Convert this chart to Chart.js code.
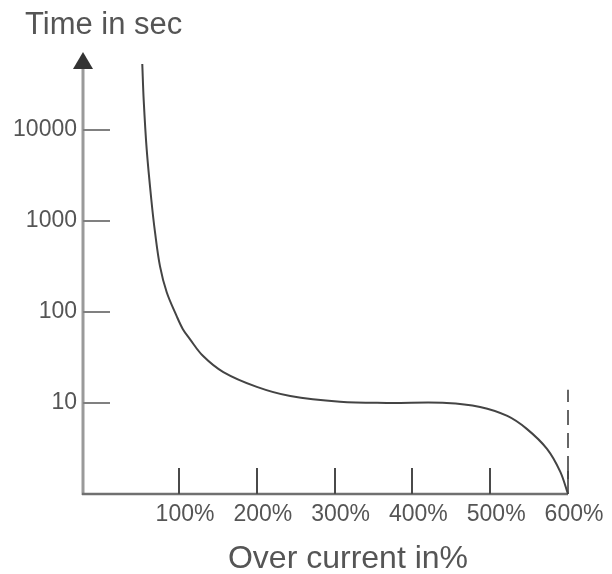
<!DOCTYPE html>
<html>
<head>
<meta charset="utf-8">
<script src="https://cdn.jsdelivr.net/npm/chart.js@4.4.1/dist/chart.umd.min.js"></script>
<style>
html,body{margin:0;padding:0;background:#fff;}
#wrap{width:612px;height:574px;}
</style>
</head>
<body>
<div id="wrap"><canvas id="c" width="612" height="574"></canvas></div>
<script>
// Data
const overCurrent = [52.8, 54.6, 58.5, 64.4, 69.2, 75.6, 84.2, 97, 105, 114, 131, 157, 200, 243, 307, 367, 444, 487, 522, 547, 573, 590, 600];
const timeSec     = [52800, 21300, 6040, 1714, 745, 316, 164, 89.8, 64.6, 50.2, 32.7, 21.8, 15.0, 11.9, 10.3, 10.0, 10.0, 9.04, 7.2, 5.19, 3.13, 1.76, 1.0];
const limitX = [600, 600];
const limitY = [1, 14];
const xTickValues = [100, 200, 300, 400, 500, 600];
const yTickValues = [10, 100, 1000, 10000];
const xRange = [-23.4, 600];
const yRange = [1, 71400];
const yTitle = 'Time in sec';
const xTitle = 'Over current in%';

const curvePts = overCurrent.map((x, i) => ({x, y: timeSec[i]}));
const limitPts = limitX.map((x, i) => ({x, y: limitY[i]}));

const decor = {
  id: 'decor',
  beforeDatasetsDraw(chart) {
    const {ctx, chartArea: a, scales: {x, y}} = chart;
    ctx.save();
    // y axis line
    ctx.strokeStyle = '#9a9a9a';
    ctx.lineWidth = 3;
    ctx.beginPath(); ctx.moveTo(a.left, a.top + 14); ctx.lineTo(a.left, a.bottom + 1); ctx.stroke();
    // x axis line
    ctx.strokeStyle = '#707070';
    ctx.lineWidth = 2.5;
    ctx.beginPath(); ctx.moveTo(a.left - 1, a.bottom); ctx.lineTo(a.right, a.bottom); ctx.stroke();
    // y ticks (inside)
    ctx.strokeStyle = '#808080';
    ctx.lineWidth = 2;
    yTickValues.forEach(v => {
      const py = Math.round(y.getPixelForValue(v));
      ctx.beginPath(); ctx.moveTo(a.left, py); ctx.lineTo(a.left + 27, py); ctx.stroke();
    });
    // x ticks (inside)
    ctx.strokeStyle = '#4a4a4a';
    ctx.lineWidth = 2;
    xTickValues.forEach(v => {
      const px = Math.round(x.getPixelForValue(v));
      ctx.beginPath(); ctx.moveTo(px, a.bottom); ctx.lineTo(px, a.bottom - 26); ctx.stroke();
    });
    // arrow head
    ctx.fillStyle = '#333';
    ctx.beginPath();
    ctx.moveTo(a.left, a.top);
    ctx.lineTo(a.left - 10, a.top + 17);
    ctx.lineTo(a.left + 10, a.top + 17);
    ctx.closePath(); ctx.fill();
    // titles
    ctx.fillStyle = '#555';
    ctx.textBaseline = 'alphabetic';
    ctx.font = '31px "Liberation Sans", Arial, sans-serif';
    ctx.textAlign = 'left';
    ctx.fillText(yTitle, 25, 34);
    ctx.font = '32px "Liberation Sans", Arial, sans-serif';
    ctx.textAlign = 'center';
    ctx.fillText(xTitle, 348, 568);
    ctx.restore();
  }
};

new Chart(document.getElementById('c'), {
  type: 'scatter',
  data: {
    datasets: [
      {
        data: curvePts,
        showLine: true,
        borderColor: '#444',
        borderWidth: 2,
        pointRadius: 0,
        tension: 0.35,
        fill: false,
        clip: false
      },
      {
        data: limitPts,
        showLine: true,
        borderColor: '#666',
        borderWidth: 2,
        borderDash: [15, 8],
        pointRadius: 0,
        fill: false,
        clip: false
      }
    ]
  },
  options: {
    responsive: false,
    animation: false,
    devicePixelRatio: 1,
    layout: {padding: {top: 52, right: 44, left: 0, bottom: 0}},
    plugins: {legend: {display: false}, tooltip: {enabled: false}, title: {display: false}},
    scales: {
      x: {
        type: 'linear',
        min: xRange[0], max: xRange[1],
        grid: {display: false, drawTicks: false},
        border: {display: false},
        afterBuildTicks: s => { s.ticks = xTickValues.map(v => ({value: v})); },
        afterFit: s => { s.height = 80; },
        ticks: {
          color: '#555',
          font: {family: '"Liberation Sans", Arial, sans-serif', size: 23},
          padding: 7,
          labelOffset: 6,
          maxRotation: 0,
          autoSkip: false,
          callback: v => v + '%'
        }
      },
      y: {
        type: 'logarithmic',
        min: yRange[0], max: yRange[1],
        grid: {display: false, drawTicks: false},
        border: {display: false},
        afterBuildTicks: s => { s.ticks = yTickValues.map(v => ({value: v})); },
        afterFit: s => { s.width = 83; },
        ticks: {
          color: '#555',
          font: {family: '"Liberation Sans", Arial, sans-serif', size: 23},
          padding: 6,
          autoSkip: false,
          callback: v => String(v)
        }
      }
    }
  },
  plugins: [decor]
});
</script>
</body>
</html>
